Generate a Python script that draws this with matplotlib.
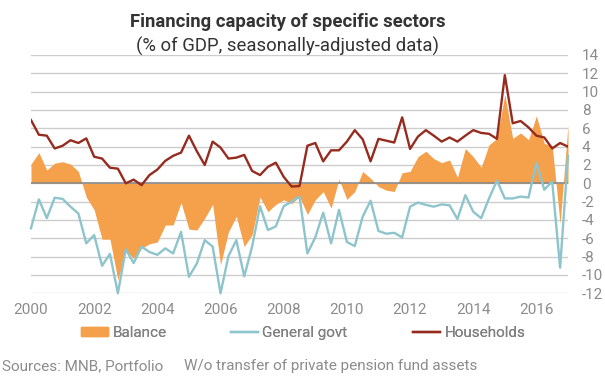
import numpy as np
import matplotlib.pyplot as plt
from matplotlib.patches import Patch
from matplotlib.lines import Line2D

# quarterly values, 2000 Q1 .. 2017 Q1 (% of GDP)
balance = [2.1, 3.35, 1.45, 2.2, 2.35, 2.1, 1.3, -1.5, -2.9, -6.1,
           -6.1, -10.55, -7.3, -8.2, -7.1, -6.6, -6.4, -4.55, -4.55, -2.1,
           -5.0, -5.1, -3.8, -2.3, -8.9, -5.3, -3.6, -6.9, -5.6, -1.5,
           -3.1, -2.3, -1.8, -2.2, -1.45, -3.4, -1.8, -0.9, -2.7, 0.45,
           -1.75, -0.9, 1.3, 0.55, -0.35, -0.75, -0.9, 1.15, 1.3, 2.9,
           3.5, 2.7, 2.25, 2.55, 0.65, 3.8, 2.9, 1.75, 4.2, 4.9,
           9.7, 4.9, 5.5, 4.75, 7.35, 4.35, 4.1, -4.4, 6.4]
general_govt = [-4.9, -1.75, -3.8, -1.57, -1.7, -2.55, -3.3, -6.55, -5.65, -9.0,
                -7.7, -12.0, -7.2, -8.7, -6.9, -7.5, -7.8, -7.1, -7.65, -5.3,
                -10.2, -8.75, -6.2, -6.9, -12.0, -7.95, -6.2, -10.15, -6.9, -2.5,
                -5.1, -4.7, -2.5, -2.0, -1.45, -7.65, -5.9, -3.2, -6.55, -2.9,
                -6.4, -6.85, -3.64, -1.9, -5.2, -5.5, -5.4, -5.9, -2.55, -2.1,
                -2.35, -2.55, -2.3, -2.4, -3.9, -1.3, -3.1, -3.8, -1.65, 0.3,
                -1.65, -1.65, -1.45, -1.55, 2.25, -0.7, 0.2, -9.2, 3.0]
households = [6.9, 5.3, 5.2, 3.8, 4.1, 4.7, 4.4, 4.9, 2.9, 2.7,
              1.7, 1.6, 0.0, 0.4, -0.2, 0.9, 1.5, 2.45, 3.0, 3.35,
              5.2, 3.5, 2.0, 4.55, 3.9, 2.7, 2.8, 3.1, 1.35, 0.9,
              1.8, 2.25, 0.7, -0.35, -0.3, 4.1, 4.4, 2.4, 3.6, 3.6,
              4.55, 5.8, 4.8, 2.4, 4.85, 4.65, 4.45, 7.2, 3.75, 5.1,
              5.8, 5.2, 4.55, 5.0, 4.55, 5.2, 5.8, 5.5, 5.4, 4.85,
              11.8, 6.55, 6.8, 6.1, 5.2, 5.0, 3.8, 4.4, 4.0]
year_labels = ["2000", "2002", "2004", "2006", "2008", "2010", "2012", "2014", "2016"]

ORANGE = '#f5a04b'
BLUE = '#8ec4cc'
RED = '#962b1f'
GREY = '#8c8c8c'

plt.rcParams['font.family'] = ['Roboto', 'DejaVu Sans']
plt.rcParams['axes.unicode_minus'] = False

fig = plt.figure(figsize=(6.05, 3.78), dpi=100)
ax = fig.add_axes([31/605, 1-293.3/378, 537/605, 238.3/378])

x = np.arange(len(balance))
ax.fill_between(x, 0, balance, color=ORANGE, lw=0, zorder=2)
ax.axhline(0, color='#8a8a8a', lw=1.2, zorder=3)
ax.plot(x, general_govt, color=BLUE, lw=1.7, zorder=4, clip_on=False)
ax.plot(x, households, color=RED, lw=1.7, zorder=5)

ax.set_xlim(0, len(balance)-1)
ax.set_ylim(-12, 14)
ax.set_yticks(np.arange(-12, 15, 2))
ax.yaxis.tick_right()
ax.grid(axis='y', color='#cdcdcd', lw=1)
ax.set_axisbelow(True)
for s in ax.spines.values():
    s.set_visible(False)
ax.tick_params(axis='both', length=0, colors=GREY, labelsize=11)
ax.tick_params(axis='y', pad=10)
ax.tick_params(axis='x', pad=7)

# one label every 8 quarters
ax.set_xticks(np.arange(len(year_labels)) * 8)
ax.set_xticklabels(year_labels)

fig.text(288/605, 1-22/378, 'Financing capacity of specific sectors', ha='center', va='center',
         fontsize=13.3, weight='bold', color='#333333')
fig.text(288/605, 1-46/378, '(% of GDP, seasonally-adjusted data)', ha='center', va='center',
         fontsize=13.3, color='#333333')

# legend entries placed one by one, as in the original
entries = [(Patch(color=ORANGE), 'Balance', 81, 0.45),
           (Line2D([], [], color=BLUE, lw=1.7), 'General govt', 231, 0.7),
           (Line2D([], [], color=RED, lw=1.7), 'Households', 413, 0.7)]
for handle, name, px, hh in entries:
    leg = fig.legend([handle], [name], loc='center left', bbox_to_anchor=(px/605, 1-333/378),
                     frameon=False, borderpad=0, borderaxespad=0, handlelength=1.75,
                     handleheight=hh, handletextpad=0.3, fontsize=11, labelcolor='#808080')
    fig.add_artist(leg)

fig.text(2/605, 1-366/378, 'Sources: MNB, Portfolio', va='center', fontsize=11, color=GREY)
fig.text(184/605, 1-366/378, 'W/o transfer of private pension fund assets', va='center',
         fontsize=11, color=GREY)

fig.savefig('out.png', dpi=100)
